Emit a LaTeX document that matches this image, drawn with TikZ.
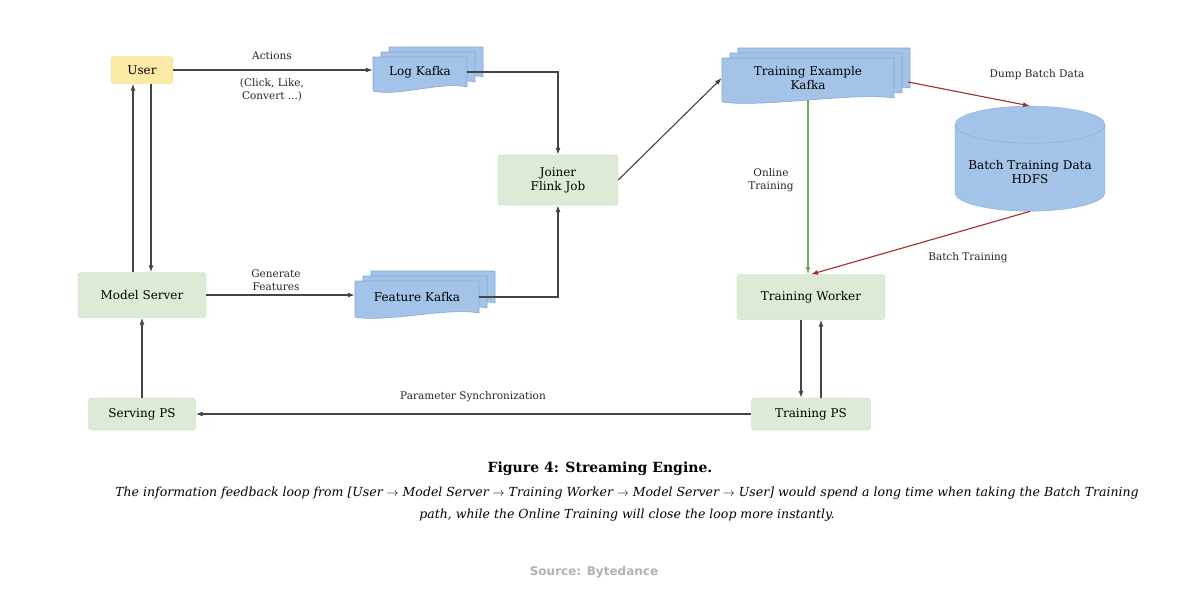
\documentclass[tikz,border=0pt]{standalone}
\usepackage{fontspec}
\setmainfont{DejaVu Serif}
\newfontfamily\srcfont{DejaVu Sans}
\usetikzlibrary{arrows.meta,calc,shapes.geometric}
\definecolor{gfill}{HTML}{DDEBD6}
\definecolor{gline}{HTML}{C4D6BC}
\definecolor{yfill}{HTML}{FCE9A6}
\definecolor{yline}{HTML}{E9D58C}
\definecolor{bfill}{HTML}{A4C3E8}
\definecolor{bline}{HTML}{86A9D6}
\definecolor{ln}{HTML}{444444}
\definecolor{redl}{HTML}{A52A2A}
\definecolor{grnl}{HTML}{6FA860}
\tikzset{
 box/.style={rectangle,rounded corners=3pt,fill=gfill,draw=gline,font=\fontsize{12}{14}\selectfont,align=center,inner sep=0pt},
 doc/.style={fill=bfill,draw=bline,line width=0.6pt},
 arr/.style={draw=ln,line width=1.1pt,-{Latex[length=7pt,width=5pt]}},
 lab/.style={font=\fontsize{10.5}{13}\selectfont,align=center,text=black!85}
}
\newcommand\dstack[6]{%
 \foreach \d in {2,1,0}{
  \pgfmathsetmacro\xl{#2-#4/2+\d*8}
  \pgfmathsetmacro\xr{#2+#4/2+\d*8}
  \pgfmathsetmacro\yt{#3-#5/2-\d*5}
  \pgfmathsetmacro\yb{#3+#5/2-\d*5}
  \filldraw[doc] (\xl,\yt) -- (\xr,\yt) -- (\xr,\yb-4) .. controls (\xr-#4/4,\yb-10) and (\xl+#4/4,\yb+6) .. (\xl,\yb) -- cycle;}
 \node[name=#1,minimum width=#4,minimum height=#5,inner sep=0pt,align=center,font=\fontsize{12}{14}\selectfont] at (#2,#3-2) {#6};}
\begin{document}
\begin{tikzpicture}[x=1pt,y=-1pt]
\useasboundingbox[fill=white] (0,0) rectangle (1200,603);
\node[box,fill=yfill,draw=yline,minimum width=62,minimum height=27] (user) at (142,70) {User};
\node[box,minimum width=120,minimum height=50] (joiner) at (558,180) {Joiner\\Flink Job};
\node[box,minimum width=128,minimum height=45] (ms) at (142,295) {Model Server};
\node[box,minimum width=148,minimum height=45] (tw) at (811,297) {Training Worker};
\node[box,minimum width=107,minimum height=32] (sps) at (142,414) {Serving PS};
\node[box,minimum width=119,minimum height=32] (tps) at (811,414) {Training PS};
\dstack{logk}{420}{74}{94}{34}{Log Kafka}
\dstack{featk}{417}{299}{124}{36}{Feature Kafka}
\dstack{tek}{808}{80}{172}{44}{Training Example\\Kafka}
\node[cylinder,shape border rotate=90,aspect=0.3,fill=bfill,draw=bline,minimum width=150,minimum height=105,align=center,font=\fontsize{12}{14}\selectfont,inner sep=0pt] (hdfs) at (1030,168) {\\[4pt]Batch Training Data\\HDFS};
% connectors
\draw[arr] (user.east) -- (user.east -| logk.west);
\draw[arr] (logk.east) -- (logk.east -| joiner.north) -- (joiner.north);
\draw[arr] (featk.east) -- (featk.east -| joiner.south) -- (joiner.south);
\draw[arr] (joiner.east) -- (tek.west);
\draw[arr] ([xshift=-9pt]ms.north) -- ([xshift=-9pt]user.south);
\draw[arr] ([xshift=9pt]user.south) -- ([xshift=9pt]ms.north);
\draw[arr] (ms.east) -- (ms.east -| featk.west);
\draw[arr] (sps.north) -- (ms.south);
\draw[arr] (tps.west) -- (sps.east);
\draw[arr] ([xshift=-10pt]tw.south) -- ([xshift=-10pt]tps.north);
\draw[arr] ([xshift=10pt]tps.north) -- ([xshift=10pt]tw.south);
\draw[arr,draw=grnl] (tek.south) -- (tek.south |- tw.north);
\draw[arr,draw=redl] ([xshift=14pt,yshift=-4pt]tek.east) -- (hdfs.top);
\draw[arr,draw=redl] (hdfs.bottom) -- (tw.north);
% labels
\node[lab] (l1) at (272,56) {Actions};
\node[lab] (l2) at (272,90) {(Click, Like,\\Convert ...)};
\node[lab] (l3) at (276,280) {Generate\\Features};
\node[lab] (l4) at (771,180) {Online\\Training};
\node[lab] (l5) at (1037,75) {Dump Batch Data};
\node[lab] (l6) at (968,258) {Batch Training};
\node[lab] (l7) at (473,397) {Parameter Synchronization};
% caption
\node[font=\fontsize{14}{16}\bfseries\selectfont] (cap) at (600,469) {Figure 4: Streaming Engine.};
\node[font=\fontsize{12.5}{22}\itshape\selectfont,align=center] (capt) at (627,504) {The information feedback loop from [User $\rightarrow$ Model Server $\rightarrow$ Training Worker $\rightarrow$ Model Server $\rightarrow$ User] would spend a long time when taking the Batch Training\\path, while the Online Training will close the loop more instantly.};
\node[font=\srcfont\fontsize{12}{14}\bfseries\selectfont,text=black!30] (src) at (594,572) {Source: Bytedance};
\end{tikzpicture}
\end{document}
